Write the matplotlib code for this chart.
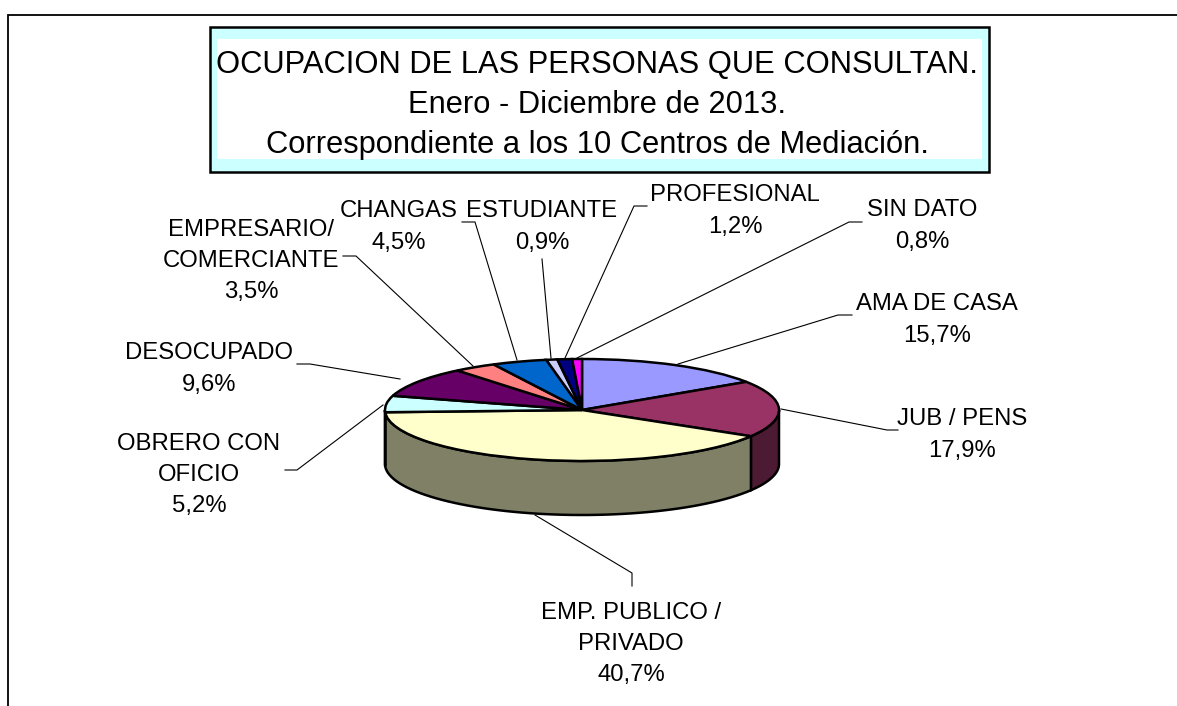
import numpy as np
import matplotlib
matplotlib.use("Agg")
import matplotlib.pyplot as plt
from matplotlib.colors import to_rgb
from matplotlib.patches import Rectangle

plt.rcParams["font.family"] = ["Liberation Sans", "DejaVu Sans"]

# ==========================================
# DATA
# ==========================================
CATEGORIES = [
    "AMA DE CASA",
    "JUB / PENS",
    "EMP. PUBLICO /\nPRIVADO",
    "OBRERO CON\nOFICIO",
    "DESOCUPADO",
    "EMPRESARIO/\nCOMERCIANTE",
    "CHANGAS",
    "ESTUDIANTE",
    "PROFESIONAL",
    "SIN DATO",
]
VALUES = [15.7, 17.9, 40.7, 5.2, 9.6, 3.5, 4.5, 0.9, 1.2, 0.8]
COLORS = [
    "#9999FF", "#993366", "#FFFFCC", "#CCFFFF", "#660066",
    "#FF8080", "#0066CC", "#CCCCFF", "#000080", "#FF00FF",
]
TITLE_LINES = [
    "OCUPACION DE LAS PERSONAS QUE CONSULTAN.",
    "Enero - Diciembre de 2013.",
    "Correspondiente a los 10 Centros de Mediación.",
]

# ==========================================
# LAYOUT (pixels of the picture)
# ==========================================
W, H = 1177, 706
CX, CY, RX, RY = 582, 410, 197, 51
DEPTH = 54

LABEL_POS = [
    (937, 320), (962, 435), (631, 644), (199, 475), (209, 369),
    (251, 261), (399, 227), (542, 227), (735, 211), (922, 226),
]
LEADERS = [
    [(852, 315), (838, 315), (678, 364)],
    [(898, 430), (887, 430), (781, 409)],
    [(632, 586), (632, 573), (535, 515)],
    [(285, 470), (297, 470), (383, 405)],
    [(297, 364), (310, 364), (400, 379)],
    [(343, 256), (356, 256), (473, 366)],
    [(462, 222), (475, 222), (517, 360)],
    [(542, 259), (551, 358)],
    [(647, 206), (634, 206), (565, 358)],
    [(862, 222), (849, 222), (577, 358)],
]

fig = plt.figure(figsize=(W / 100, H / 100), dpi=100, facecolor="white")

# ==========================================
# FRAME, TITLE, LABELS
# ==========================================
ax = fig.add_axes([0, 0, 1, 1])
ax.set_xlim(0, W)
ax.set_ylim(H, 0)
ax.axis("off")

ax.plot([7.5, 7.5, W], [H, 14.5, 14.5], color="black", lw=1.3, solid_joinstyle="miter")

ax.add_patch(Rectangle((209.5, 27), 779.5, 144.5, facecolor="#CCFFFF", edgecolor="black", lw=1.8))
ax.add_patch(Rectangle((217, 39), 765, 120, facecolor="white", edgecolor="none"))
for line, y in zip(TITLE_LINES, [65, 105, 145]):
    ax.text(597.5, y, line, ha="center", va="center", fontsize=22.2, color="black")

for name, value, (x, y), pts in zip(CATEGORIES, VALUES, LABEL_POS, LEADERS):
    label = name + "\n" + f"{value:.1f}".replace(".", ",") + "%"
    ax.text(x, y, label, ha="center", va="center", fontsize=17.2, linespacing=1.55, color="black")
    ax.plot([p[0] for p in pts], [p[1] for p in pts], color="black", lw=0.8)

# ==========================================
# PIE
# ==========================================
pie_ax = fig.add_axes([(CX - RX) / W, 1 - (CY + RY) / H, 2 * RX / W, 2 * RY / H])
wedges, _ = pie_ax.pie(
    VALUES,
    colors=COLORS,
    startangle=90,
    counterclock=False,
    radius=1,
    wedgeprops={"edgecolor": "black", "linewidth": 1.8, "clip_on": False, "zorder": 3},
)
pie_ax.set_aspect("auto")
pie_ax.set_xlim(-1, 1)
pie_ax.set_ylim(-1, 1)
pie_ax.patch.set_visible(False)

# side wall: only the part of each wedge on the front half
drop = DEPTH / RY
for wedge, color in zip(wedges, COLORS):
    start = max(wedge.theta1, -180)
    end = min(wedge.theta2, 0)
    if end <= start:
        continue
    t = np.radians(np.linspace(start, end, 60))
    xs = np.r_[np.cos(t), np.cos(t[::-1])]
    ys = np.r_[np.sin(t), np.sin(t[::-1]) - drop]
    shade = tuple(c * 0.5 for c in to_rgb(color))
    pie_ax.fill(xs, ys, facecolor=shade, edgecolor="black", lw=1.8, clip_on=False, zorder=2)

fig.savefig("out.png", dpi=100)
